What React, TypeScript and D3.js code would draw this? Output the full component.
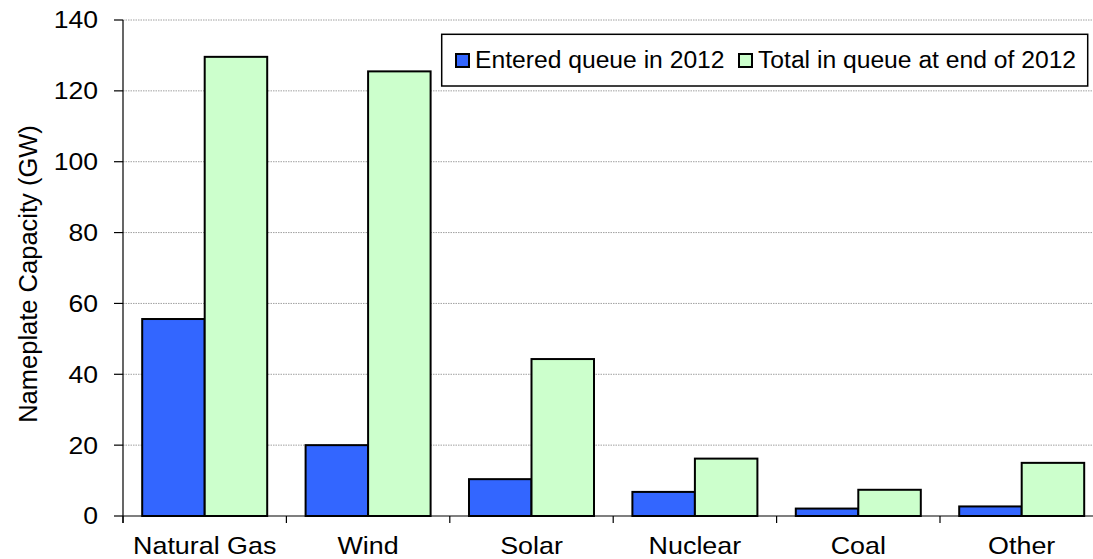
import React from "react";
import * as d3 from "d3";

const categories = ["Natural Gas", "Wind", "Solar", "Nuclear", "Coal", "Other"];
const enteredQueue2012 = [55.6, 20.0, 10.4, 6.8, 2.1, 2.7];
const totalQueueEnd2012 = [129.6, 125.5, 44.3, 16.2, 7.4, 15.0];
const seriesNames = ["Entered queue in 2012", "Total in queue at end of 2012"];
const seriesColors = ["#3366FF", "#CCFFCC"];
const yTicks = [0, 20, 40, 60, 80, 100, 120, 140];

const W = 1093;
const H = 559;
const left = 123;
const right = 1103.4;
const top = 20;
const bottom = 516;
const FONT = "'Liberation Sans', Arial, sans-serif";

export default function App() {
  const x = d3.scaleBand<string>().domain(categories).range([left, right]).paddingInner(0.235).paddingOuter(0.1175);
  const step = x.step();
  const inner = d3.scaleBand<number>().domain([0, 1]).range([0, x.bandwidth()]);
  const y = d3.scaleLinear().domain([0, 140]).range([bottom, top]);
  const series = [enteredQueue2012, totalQueueEnd2012];
  const bounds = d3.range(categories.length + 1).map((i) => left + i * step);

  return (
    <svg width={W} height={H} style={{ position: "fixed", left: 0, top: 0, background: "#fff" }} fontFamily={FONT}>
      <rect x={0} y={0} width={W} height={H} fill="#fff" />
      {yTicks.filter((t) => t > 0).map((t) => (
        <line key={"g" + t} x1={left} x2={W} y1={y(t)} y2={y(t)} stroke="#a0a0a0" strokeWidth={1} strokeDasharray="1.5,1" />
      ))}
      {categories.map((c, i) =>
        series.map((s, j) => (
          <rect
            key={c + j}
            x={(x(c) as number) + (inner(j) as number)}
            y={y(s[i])}
            width={inner.bandwidth()}
            height={bottom - y(s[i])}
            fill={seriesColors[j]}
            stroke="#000"
            strokeWidth={2}
          />
        ))
      )}
      <line x1={left} x2={left} y1={top} y2={bottom + 7} stroke="#000" strokeWidth={1.2} />
      <line x1={left} x2={W} y1={bottom} y2={bottom} stroke="#000" strokeWidth={1.2} />
      {yTicks.map((t) => (
        <g key={"t" + t}>
          <line x1={left - 9} x2={left} y1={y(t)} y2={y(t)} stroke="#000" strokeWidth={1.2} />
          <text transform={`translate(98,${y(t)}) scale(1.13,1)`} dy="0.36em" textAnchor="end" fontSize={23.5}>
            {t}
          </text>
        </g>
      ))}
      {bounds.map((b, i) => (
        <line key={"b" + i} x1={b} x2={b} y1={bottom} y2={bottom + 7} stroke="#000" strokeWidth={1.2} />
      ))}
      {categories.map((c) => (
        <text
          key={"c" + c}
          transform={`translate(${(x(c) as number) + x.bandwidth() / 2},554) scale(1.12,1)`}
          textAnchor="middle"
          fontSize={24}
        >
          {c}
        </text>
      ))}
      <text transform={`translate(37,${(top + bottom) / 2 + 6}) rotate(-90)`} textAnchor="middle" fontSize={25.5}>
        Nameplate Capacity (GW)
      </text>
      <rect x={441.7} y={34.3} width={646} height={51.7} fill="#fff" stroke="#000" strokeWidth={1.5} />
      {seriesNames.map((n, j) => {
        const sx = j === 0 ? 456 : 739;
        return (
          <g key={n}>
            <rect x={sx} y={54} width={13} height={13} fill={seriesColors[j]} stroke="#000" strokeWidth={2} />
            <text transform={`translate(${sx + 19},68) scale(1.05,1)`} fontSize={23.5}>
              {n}
            </text>
          </g>
        );
      })}
    </svg>
  );
}
